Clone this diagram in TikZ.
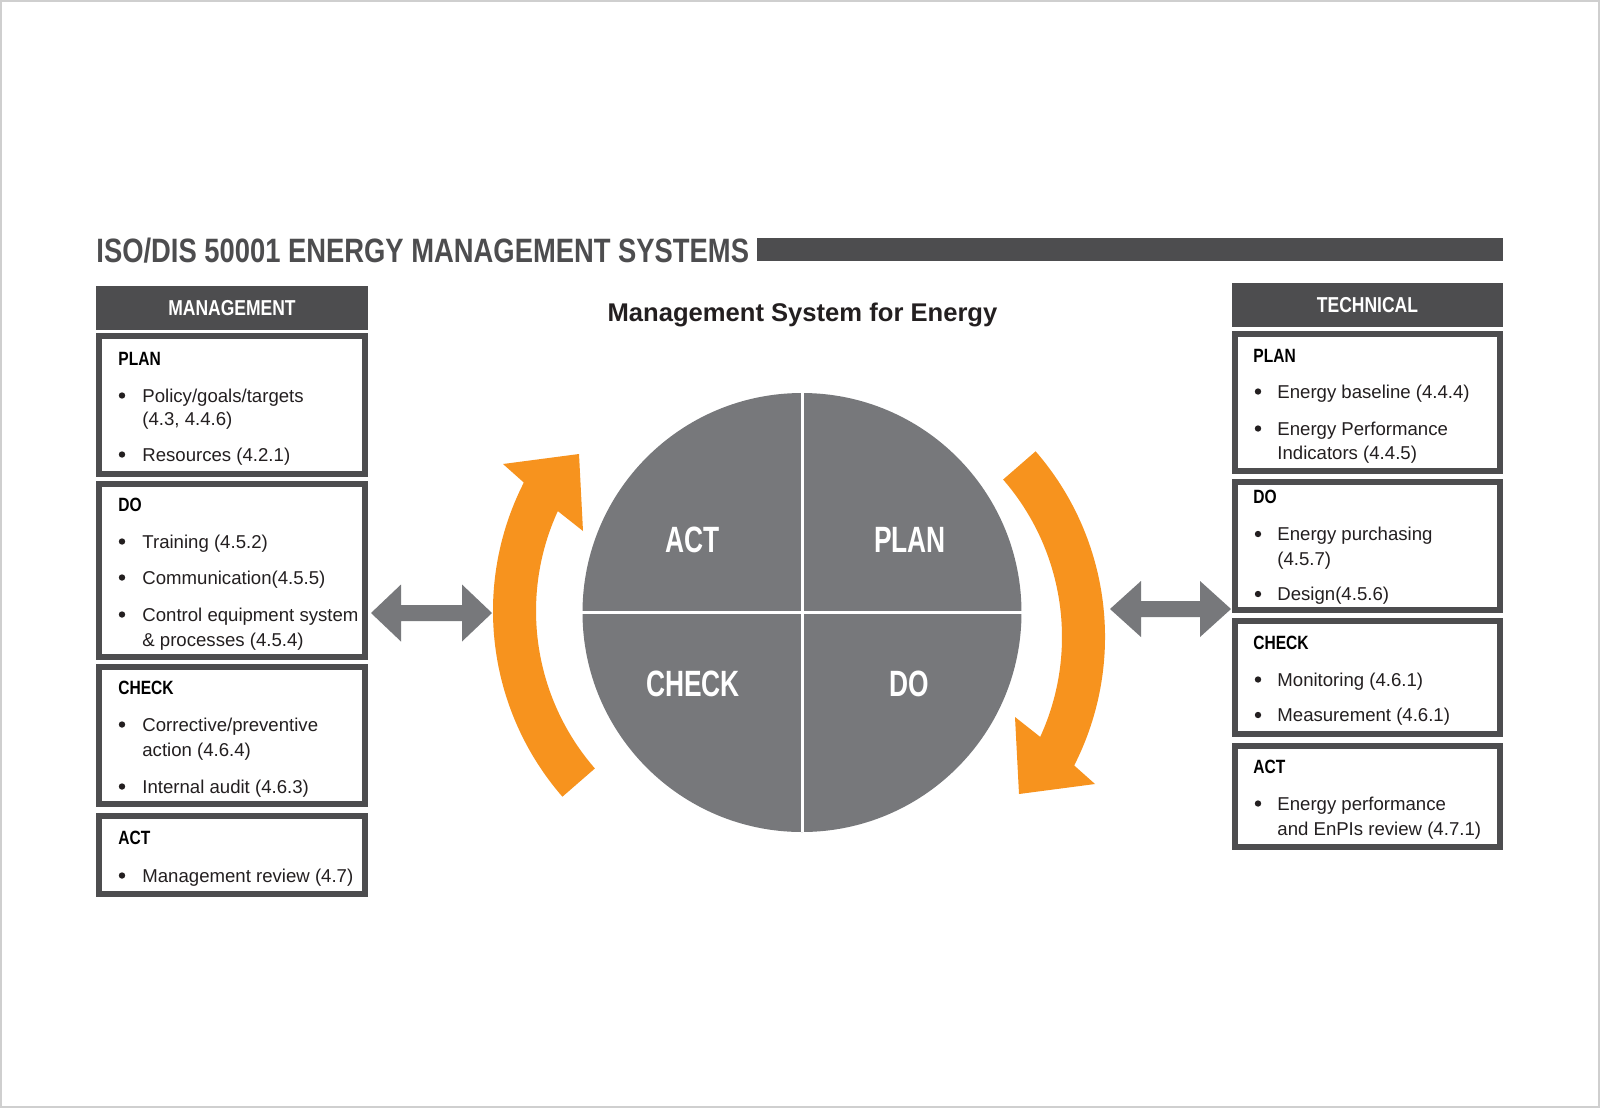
\documentclass[tikz,border=0pt]{standalone}
\usepackage{fontspec}
\setmainfont{Liberation Sans}
\newfontfamily\cond[FakeStretch=0.81]{Liberation Sans}
\newfontfamily\condC[FakeStretch=0.72]{Liberation Sans}
\usetikzlibrary{calc}
\definecolor{dk}{HTML}{4D4D4F}
\definecolor{gr}{HTML}{77787B}
\definecolor{og}{HTML}{F7931E}
\definecolor{txt}{HTML}{231F20}
\definecolor{framec}{HTML}{CFCFCF}
\newcommand\dblarrowshape[4]{% start, end, head length, head half width
  \fill[gr] (#1) -- ++(#3,-#4) -- ++(0,#4-8) -- ($(#2)+(-#3,-8)$) -- ++(0,-#4+8) -- (#2)
    -- ++(-#3,#4) -- ++(0,-#4+8) -- ($(#1)+(#3,8)$) -- ++(0,#4-8) -- cycle;}
\newcommand\orangearc{%
  \fill[og] (562.4,796.7) arc[start angle=139, end angle=207, radius=283]
    -- (503,464) -- (579,454) -- (583,531)
    -- (557.8,511.1) arc[start angle=204.6, end angle=139, radius=240] -- cycle;}
\begin{document}
\begin{tikzpicture}[x=0.5pt,y=-0.5pt,
  bd/.style={font=\fontsize{9.3}{12}\selectfont, text=txt, inner sep=0pt, anchor=base west},
  bul/.style={circle, fill=txt, inner sep=0pt, minimum size=3.2pt},
  hd/.style={font=\cond\bfseries\fontsize{9.6}{12}\selectfont, text=black, inner sep=0pt, anchor=base west},
  box/.style={draw=dk, line width=3pt, fill=white, inner sep=0pt, minimum width=133pt},
  boxr/.style={box, minimum width=132.5pt},
  hdr/.style={fill=dk, inner sep=0pt, text=white, font=\cond\bfseries\fontsize{10.8}{12}\selectfont},
  quad/.style={text=white, font=\condC\bfseries\fontsize{18.3}{20}\selectfont, inner sep=0pt, anchor=base}
]
\useasboundingbox (0,0) rectangle (1600,1108);
\fill[white] (0,0) rectangle (1600,1108);
\draw[framec, line width=0.75pt] (1,1) rectangle (1599,1107);

% title
\node[font=\cond\bfseries\fontsize{16.9}{20}\selectfont, text=dk, anchor=base west, inner sep=0pt] (title) at (96,262) {ISO/DIS 50001 ENERGY MANAGEMENT SYSTEMS};
\fill[dk] (757,238) rectangle (1503,261);
\node[font=\bfseries\fontsize{12.8}{15}\selectfont, text=txt, anchor=base, inner sep=0pt] (sub) at (802.5,321) {Management System for Energy};

% left panel
\node[hdr, minimum width=136pt, minimum height=22pt] (lhead) at (232,308) {MANAGEMENT};
\node[box, minimum height=69pt] (lplan) at (232,405) {};
\node[box, minimum height=86.5pt] (ldo) at (232,570.5) {};
\node[box, minimum height=68.5pt] (lcheck) at (232,735.5) {};
\node[box, minimum height=39pt] (lact) at (232,855) {};

\node[hd] (lph) at (118,365) {PLAN};
\node[bul] (lpb1) at (122,395.5) {};
\node[bd] (lp1) at (142,402) {Policy/goals/targets};
\node[bd] (lp1c) at (142,425) {(4.3, 4.4.6)};
\node[bul] (lpb2) at (122,454.5) {};
\node[bd] (lp2) at (142,461) {Resources (4.2.1)};

\node[hd] (ldh) at (118,511) {DO};
\node[bul] (ldb1) at (122,541.5) {};
\node[bd] (ld1) at (142,548) {Training (4.5.2)};
\node[bul] (ldb2) at (122,577.5) {};
\node[bd] (ld2) at (142,584) {Communication(4.5.5)};
\node[bul] (ldb3) at (122,614.5) {};
\node[bd] (ld3) at (142,621) {Control equipment system};
\node[bd] (ld3c) at (142,646) {\& processes (4.5.4)};

\node[hd] (lch) at (118,694) {CHECK};
\node[bul] (lcb1) at (122,724.5) {};
\node[bd] (lc1) at (142,731) {Corrective/preventive};
\node[bd] (lc1c) at (142,756) {action (4.6.4)};
\node[bul] (lcb2) at (122,786.5) {};
\node[bd] (lc2) at (142,793) {Internal audit (4.6.3)};

\node[hd] (lah) at (118,844) {ACT};
\node[bul] (lab1) at (122,875.5) {};
\node[bd] (la1t) at (142,882) {Management review (4.7)};

% right panel
\node[hdr, minimum width=135.5pt, minimum height=22pt] (rhead) at (1367.5,305) {TECHNICAL};
\node[boxr, minimum height=68.5pt] (rplan) at (1367.5,402.5) {};
\node[boxr, minimum height=64pt] (rdo) at (1367.5,546) {};
\node[boxr, minimum height=56.5pt] (rcheck) at (1367.5,677.5) {};
\node[boxr, minimum height=50.5pt] (ract) at (1367.5,796.5) {};

\node[hd] (rph) at (1253,362) {PLAN};
\node[bul] (rpb1) at (1258,391.5) {};
\node[bd] (rp1) at (1277,398) {Energy baseline (4.4.4)};
\node[bul] (rpb2) at (1258,428.5) {};
\node[bd] (rp2) at (1277,435) {Energy Performance};
\node[bd] (rp2c) at (1277,459) {Indicators (4.4.5)};

\node[hd] (rdh) at (1253,503) {DO};
\node[bul] (rdb1) at (1258,534) {};
\node[bd] (rd1) at (1277,540.5) {Energy purchasing};
\node[bd] (rd1c) at (1277,565) {(4.5.7)};
\node[bul] (rdb2) at (1258,594) {};
\node[bd] (rd2) at (1277,600.5) {Design(4.5.6)};

\node[hd] (rch) at (1253,649) {CHECK};
\node[bul] (rcb1) at (1258,679.5) {};
\node[bd] (rc1) at (1277,686) {Monitoring (4.6.1)};
\node[bul] (rcb2) at (1258,715) {};
\node[bd] (rc2) at (1277,721.5) {Measurement (4.6.1)};

\node[hd] (rah) at (1253,773) {ACT};
\node[bul] (rab1) at (1258,803.5) {};
\node[bd] (ra1t) at (1277,810) {Energy performance};
\node[bd] (ra1c) at (1277,835) {and EnPIs review (4.7.1)};

% PDCA circle
\node[circle, fill=gr, minimum size=219.5pt, inner sep=0pt] (pdca) at (802,612.5) {};
\draw[white, line width=1.5pt] (pdca.north) -- (pdca.south);
\draw[white, line width=1.5pt] (pdca.west) -- (pdca.east);
\node[quad] (qact) at (693,552) {ACT};
\node[quad] (qplan) at (910,552) {PLAN};
\node[quad] (qcheck) at (693,696) {CHECK};
\node[quad] (qdo) at (909,696) {DO};

% orange cycle arrows
\orangearc
\begin{scope}[rotate around={180:(799,624)}]
\orangearc
\end{scope}

% grey double arrows
\coordinate (la1) at (371,613);
\coordinate (la2) at (492,613);
\dblarrowshape{la1}{la2}{30}{28.5}
\coordinate (ra1) at (1110,609);
\coordinate (ra2) at (1231,609);
\dblarrowshape{ra1}{ra2}{31}{28}
\end{tikzpicture}
\end{document}
